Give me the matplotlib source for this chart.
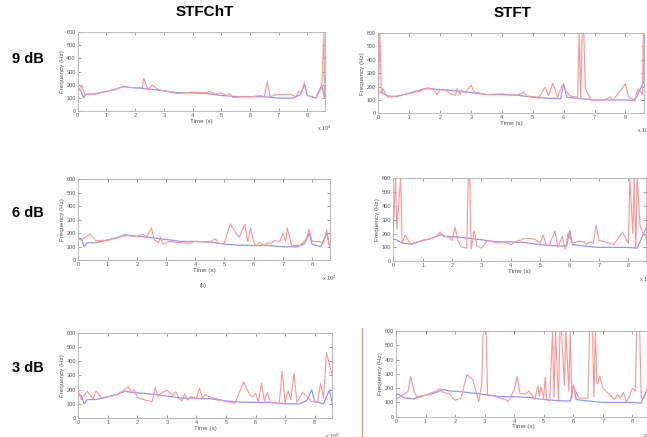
import matplotlib
matplotlib.use("Agg")
import matplotlib.pyplot as plt
from matplotlib.lines import Line2D

plt.rcParams['font.family'] = ['Liberation Sans', 'DejaVu Sans']

# reference pitch tracks (blue)
blue_t_l = [0, 0.1, 0.2, 0.3, 0.6, 1.0, 1.3, 1.6, 1.8, 2.2, 2.6, 3.0, 3.5, 4.0, 4.5,
            5.0, 5.5, 6.0, 6.5, 7.0, 7.5, 7.75, 7.9, 8.0, 8.3, 8.5, 8.6]
blue_f_l = [165, 160, 100, 130, 130, 150, 165, 190, 180, 175, 165, 155, 140, 140, 135,
            120, 112, 110, 110, 100, 100, 125, 200, 120, 100, 200, 100]
blue_t_r = [0, 0.1, 0.3, 0.6, 1.0, 1.3, 1.6, 1.8, 2.2, 2.6, 3.0, 3.5, 4.0, 4.5, 5.0,
            5.5, 5.9, 6.0, 6.1, 6.5, 7.0, 7.5, 8.0, 8.3, 8.6]
blue_f_r = [160, 155, 130, 125, 150, 165, 190, 180, 175, 165, 155, 140, 140, 135, 120,
            112, 110, 220, 120, 110, 100, 100, 100, 95, 240]

# estimated tracks (red)
red_9_cht_t = [0, 0.15, 0.25, 0.5, 1.0, 1.6, 2.0, 2.25, 2.3, 2.45, 2.6, 2.8, 3.0, 3.5, 4.0,
               4.5, 4.6, 4.8, 5.0, 5.2, 5.3, 5.4, 5.8, 6.0, 6.4, 6.5, 6.6, 6.7, 6.9, 7.4,
               7.6, 7.7, 7.8, 7.9, 8.0, 8.3, 8.5, 8.58, 8.6]
red_9_cht_f = [150, 195, 125, 130, 150, 185, 178, 180, 250, 160, 200, 165, 155, 135, 145,
               140, 150, 130, 140, 120, 135, 105, 110, 110, 120, 105, 225, 110, 125, 130,
               110, 150, 140, 220, 120, 100, 180, 600, 100]

red_9_ft_t = [0, 0.05, 0.1, 0.15, 0.3, 0.5, 1.0, 1.5, 1.8, 1.9, 2.0, 2.2, 2.3, 2.5, 2.55,
              2.65, 2.7, 2.8, 3.0, 3.1, 3.5, 4.0, 4.5, 4.7, 4.8, 5.2, 5.4, 5.5, 5.65, 5.8,
              5.95, 6.1, 6.2, 6.45, 6.5, 6.55, 6.6, 6.65, 6.7, 6.9, 7.3, 7.5, 7.6, 7.9, 8.0,
              8.1, 8.3, 8.4, 8.5, 8.55, 8.58, 8.6]
red_9_ft_f = [130, 600, 150, 185, 120, 125, 150, 185, 180, 140, 175, 175, 150, 135, 185,
              140, 175, 150, 210, 160, 140, 145, 135, 160, 130, 120, 195, 130, 225, 120,
              210, 160, 130, 120, 600, 110, 600, 600, 180, 100, 100, 120, 100, 190, 220,
              120, 100, 180, 160, 140, 600, 240]

red_6_cht_t = [0, 0.1, 0.4, 0.6, 1.0, 1.5, 1.8, 2.0, 2.2, 2.35, 2.5, 2.6, 2.75, 2.8, 2.9,
               3.1, 3.5, 3.8, 4.0, 4.5, 4.7, 4.8, 5.0, 5.2, 5.4, 5.5, 5.7, 5.8, 5.9, 6.0,
               6.1, 6.2, 6.35, 6.5, 6.6, 6.7, 6.9, 7.0, 7.1, 7.15, 7.3, 7.6, 7.8, 7.9, 8.0,
               8.2, 8.4, 8.5, 8.6]
red_6_cht_f = [160, 150, 195, 145, 150, 180, 185, 175, 195, 175, 240, 150, 130, 175, 120,
               140, 130, 125, 140, 135, 160, 125, 125, 270, 200, 170, 265, 140, 240, 140,
               105, 135, 110, 130, 125, 145, 140, 200, 140, 240, 110, 110, 160, 230, 140,
               140, 130, 230, 100]

red_6_ft_t = [0, 0.08, 0.12, 0.25, 0.3, 0.4, 0.6, 1.0, 1.4, 1.6, 1.7, 1.9, 2.0, 2.1, 2.2,
              2.3, 2.5, 2.55, 2.6, 2.65, 2.75, 2.85, 3.0, 3.2, 3.5, 3.8, 4.0, 4.2, 4.5, 4.8,
              5.0, 5.1, 5.2, 5.3, 5.5, 5.6, 5.75, 5.85, 5.95, 6.1, 6.3, 6.5, 6.55, 6.7, 6.8,
              6.9, 7.0, 7.2, 7.5, 7.8, 8.0, 8.05, 8.15, 8.2, 8.25, 8.3, 8.4, 8.5, 8.6]
red_6_ft_f = [230, 600, 230, 600, 130, 190, 120, 150, 170, 210, 180, 175, 150, 245, 150,
              105, 95, 600, 600, 90, 220, 110, 95, 150, 135, 140, 120, 145, 165, 160,
              130, 190, 120, 110, 220, 100, 180, 85, 200, 130, 145, 140, 120, 140, 130,
              260, 150, 140, 120, 210, 130, 600, 200, 600, 90, 600, 250, 200, 170]

red_3_cht_t = [0, 0.1, 0.3, 0.5, 0.6, 0.8, 1.0, 1.3, 1.5, 1.7, 1.8, 1.9, 2.0, 2.2, 2.5,
               2.6, 2.7, 2.8, 3.0, 3.2, 3.3, 3.4, 3.5, 3.6, 3.7, 3.8, 4.0, 4.1, 4.2, 4.3,
               4.5, 4.7, 5.0, 5.3, 5.6, 5.8, 5.9, 6.0, 6.1, 6.2, 6.3, 6.4, 6.5, 6.8, 6.9,
               7.0, 7.1, 7.2, 7.3, 7.4, 7.6, 7.7, 7.9, 8.1, 8.2, 8.3, 8.4, 8.6]
red_3_cht_f = [195, 130, 190, 135, 190, 140, 150, 165, 190, 220, 180, 200, 145, 130, 115,
               215, 150, 175, 195, 160, 185, 145, 120, 170, 125, 150, 140, 210, 145, 165,
               145, 135, 115, 105, 255, 165, 150, 175, 115, 245, 120, 180, 110, 100, 330,
               110, 190, 130, 315, 110, 180, 160, 115, 110, 245, 140, 460, 300]

red_3_ft_t = [0, 0.2, 0.4, 0.5, 0.6, 0.7, 1.0, 1.3, 1.5, 1.6, 1.8, 2.0, 2.2, 2.4, 2.6,
              2.8, 2.9, 2.95, 3.05, 3.1, 3.3, 3.5, 3.7, 3.8, 4.0, 4.1, 4.2, 4.4, 4.5, 4.7,
              4.8, 4.85, 4.9, 5.0, 5.05, 5.1, 5.2, 5.3, 5.35, 5.4, 5.5, 5.55, 5.6, 5.7, 5.75,
              5.85, 5.9, 5.95, 6.0, 6.2, 6.5, 6.55, 6.65, 6.7, 6.75, 6.8, 6.85, 6.9, 7.0,
              7.2, 7.4, 7.5, 7.6, 7.7, 7.8, 7.9, 8.0, 8.1, 8.15, 8.25, 8.3, 8.4, 8.6]
red_3_ft_f = [120, 150, 175, 280, 185, 140, 150, 175, 195, 170, 160, 115, 130, 295, 260,
              105, 220, 600, 600, 150, 150, 130, 120, 105, 190, 280, 160, 160, 180, 120,
              215, 145, 210, 130, 275, 120, 110, 600, 130, 600, 110, 600, 600, 220, 600,
              180, 600, 130, 210, 130, 130, 600, 600, 140, 600, 230, 240, 285, 200,
              160, 120, 155, 130, 170, 105, 140, 200, 180, 600, 600, 130, 130, 240]

panels = [
    ([0.1201, 0.7453, 0.3815, 0.1815], blue_t_l, blue_f_l, red_9_cht_t, red_9_cht_f),
    ([0.5847, 0.7407, 0.4107, 0.1838], blue_t_r, blue_f_r, red_9_ft_t, red_9_ft_f),
    ([0.1210, 0.4043, 0.3884, 0.1854], blue_t_l, blue_f_l, red_6_cht_t, red_6_cht_f),
    ([0.6079, 0.4021, 0.3906, 0.1906], blue_t_r, blue_f_r, red_6_ft_t, red_6_ft_f),
    ([0.1210, 0.0435, 0.3927, 0.1945], blue_t_l, blue_f_l, red_3_cht_t, red_3_cht_f),
    ([0.6121, 0.0465, 0.3926, 0.1961], blue_t_r, blue_f_r, red_3_ft_t, red_3_ft_f),
]

fig = plt.figure(figsize=(6.47, 4.37), dpi=100)

for pos, bt, bf, rt, rf in panels:
    ax = fig.add_axes(pos)
    ax.plot(bt, bf, color='#9494ff', lw=0.9)
    ax.plot(rt, rf, color='#ff9494', lw=0.8)
    ax.set_xlim(0, 8.6)
    ax.set_ylim(0, 600)
    ax.set_xticks(range(0, 9))
    ax.set_yticks(range(0, 601, 100))
    ax.tick_params(direction='in', length=2, width=0.4, labelsize=4,
                   colors='#555555', top=True, right=True, pad=1.5)
    for s in ax.spines.values():
        s.set_color('#b0b0b0')
        s.set_linewidth(0.6)
    ax.set_xlabel('Time (s)', fontsize=4.5, color='#555555', labelpad=0.5)
    ax.set_ylabel('Frequency (Hz)', fontsize=4.5, color='#555555', labelpad=1)
    ax.text(1.0, -0.16, r'x 10$^{4}$', transform=ax.transAxes, fontsize=4,
            color='#555555', ha='center', va='top')

fig.text(205 / 647, 1 - 12 / 437, 'STFChT', fontsize=11, fontweight='bold',
         ha='center', va='center')
fig.text(513 / 647, 1 - 13 / 437, 'STFT', fontsize=11, fontweight='bold',
         ha='center', va='center')
for y, lab in [(59, '9 dB'), (213, '6 dB'), (368, '3 dB')]:
    fig.text(12 / 647, 1 - y / 437, lab, fontsize=10.5, fontweight='bold',
             ha='left', va='center')
fig.text(203 / 647, 1 - 286 / 437, '(b)', fontsize=4, color='#555555',
         ha='center', va='center')

fig.add_artist(Line2D([362 / 647, 362 / 647], [0, 1 - 328 / 437],
                      color='#ff8c8c', lw=0.9))

fig.savefig('out.png', dpi=100)
